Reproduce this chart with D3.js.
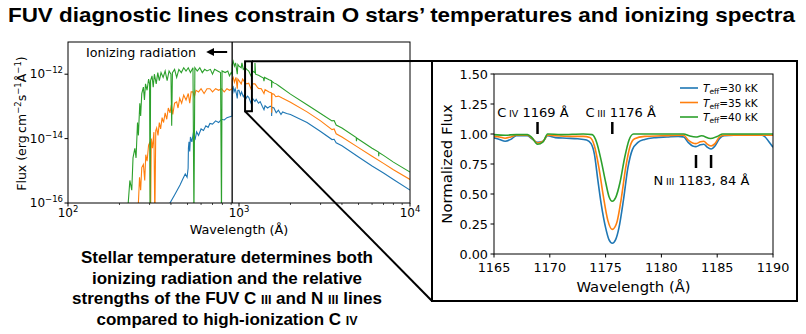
<!DOCTYPE html>
<html>
<head>
<meta charset="utf-8">
<script src="https://cdn.jsdelivr.net/npm/d3@7"></script>
<style>
  body { margin: 0; background: #fff; }
  text { font-family: "DejaVu Sans", sans-serif; }
  text.hv { font-family: "Liberation Sans", Arial, sans-serif; }
</style>
</head>
<body>
<div id="vis"></div>
<script>
// ---- data ----
const temps = ['30', '35', '40'];
const colors = ['#1f77b4', '#ff7f0e', '#2ca02c'];

// SED panel: [wavelength (Å), log10 flux]
const sed30 = [[380,-16.6],[395,-16.0],[420,-15.75],[452,-15.44],[470,-15.25],[485,-15.1],[497,-15.2],[504,-14.92],[506,-14.3],[510,-14.1],[515,-14.4],[520,-13.95],[530,-14.1],[540,-13.85],[555,-14.0],[565,-13.79],[580,-13.9],[600,-13.7],[620,-13.75],[640,-13.6],[660,-13.65],[676,-13.53],[700,-13.55],[730,-13.45],[760,-13.5],[790,-13.4],[820,-13.42],[850,-13.35],[885,-13.32],[911,-13.3],[913,-12.45],[925,-12.4],[935,-12.55],[950,-12.45],[965,-12.6],[977,-12.75],[985,-12.5],[1000,-12.5],[1020,-12.65],[1035,-12.55],[1060,-12.7],[1080,-12.62],[1100,-12.75],[1120,-12.68],[1140,-12.72],[1175,-12.9],[1200,-12.75],[1240,-12.85],[1260,-12.78],[1300,-12.9],[1330,-12.85],[1370,-13.0],[1400,-13.1],[1420,-12.98],[1470,-13.05],[1520,-13.0],[1548,-13.0],[1552,-13.3],[1558,-13.02],[1600,-13.05],[1650,-13.2],[1700,-13.12],[1760,-13.25],[1800,-13.17],[1900,-13.22],[2000,-13.25],[2500,-13.5],[3000,-13.78],[3500,-14.03],[3600,-14.02],[3700,-14.13],[4000,-14.22],[5000,-14.57],[6000,-14.85],[7000,-15.07],[8000,-15.27],[10000,-15.6]];
const sed35 = [[250,-16.6],[258,-16.0],[262,-15.2],[266,-15.6],[270,-14.9],[276,-14.8],[281,-15.3],[285,-14.5],[290,-14.7],[296,-14.2],[302,-14.1],[304,-16.5],[307,-14.0],[312,-14.3],[318,-13.8],[322,-16.5],[326,-13.75],[330,-13.67],[336,-13.9],[342,-13.5],[348,-13.7],[355,-13.35],[362,-13.5],[370,-13.2],[378,-13.4],[386,-13.05],[395,-13.2],[402,-12.95],[410,-13.25],[420,-12.9],[432,-12.86],[440,-13.05],[450,-12.75],[462,-12.9],[475,-12.65],[490,-12.8],[505,-12.6],[515,-12.9],[525,-12.55],[538,-12.55],[548,-12.7],[560,-12.5],[580,-12.55],[600,-12.45],[625,-12.6],[650,-12.45],[676,-12.45],[700,-12.55],[730,-12.45],[760,-12.5],[790,-12.45],[820,-12.55],[850,-12.45],[880,-12.5],[911,-12.45],[913,-12.15],[925,-12.1],[940,-12.25],[960,-12.1],[977,-12.45],[985,-12.15],[1000,-12.2],[1030,-12.3],[1050,-12.15],[1080,-12.25],[1110,-12.3],[1140,-12.28],[1175,-12.45],[1200,-12.3],[1240,-12.3],[1280,-12.4],[1300,-12.44],[1350,-12.45],[1400,-12.6],[1420,-12.48],[1500,-12.55],[1548,-12.58],[1552,-13.2],[1558,-12.6],[1600,-12.62],[1640,-12.7],[1700,-12.68],[1800,-12.75],[2000,-12.87],[2500,-13.17],[3000,-13.45],[3500,-13.72],[3600,-13.7],[3700,-13.85],[4000,-13.95],[5000,-14.28],[6000,-14.55],[7000,-14.77],[8000,-14.97],[10000,-15.27]];
const sed40 = [[205,-16.6],[225,-16.0],[230,-15.3],[236,-15.6],[240,-14.6],[246,-14.3],[250,-14.6],[255,-13.5],[258,-13.9],[263,-12.9],[266,-13.3],[270,-12.6],[276,-12.4],[280,-12.8],[284,-12.3],[290,-12.5],[296,-12.15],[300,-12.3],[302,-16.5],[304,-12.2],[310,-12.05],[315,-12.4],[320,-12.0],[328,-12.3],[335,-11.95],[342,-12.2],[350,-11.95],[360,-12.1],[370,-11.9],[380,-12.2],[390,-11.9],[400,-12.0],[404,-13.6],[408,-11.95],[420,-11.85],[432,-12.1],[445,-11.85],[460,-11.95],[475,-11.8],[490,-11.9],[505,-11.8],[520,-11.95],[538,-11.8],[545,-16.5],[552,-11.8],[570,-11.9],[590,-11.8],[610,-11.95],[630,-11.85],[650,-11.9],[680,-11.85],[700,-12.0],[720,-11.85],[750,-11.9],[780,-11.95],[790,-16.5],[796,-11.9],[830,-11.95],[860,-11.9],[880,-12.05],[900,-11.95],[911,-12.0],[913,-11.7],[925,-11.6],[940,-11.75],[955,-11.65],[977,-12.0],[985,-11.7],[1000,-11.75],[1030,-11.8],[1040,-11.65],[1060,-11.85],[1085,-11.8],[1110,-11.85],[1140,-11.9],[1175,-12.05],[1200,-11.9],[1238,-11.95],[1240,-11.65],[1250,-12.0],[1300,-12.03],[1390,-12.12],[1400,-12.22],[1410,-12.1],[1500,-12.17],[1548,-12.2],[1552,-12.42],[1558,-12.22],[1600,-12.27],[1650,-12.3],[1700,-12.35],[2000,-12.62],[2500,-12.95],[3000,-13.22],[3500,-13.45],[3600,-13.44],[3700,-13.58],[4000,-13.67],[4850,-13.97],[4862,-14.08],[4875,-13.98],[5000,-14.02],[6000,-14.3],[6550,-14.42],[6563,-14.55],[6580,-14.43],[7000,-14.52],[8000,-14.73],[10000,-15.04]];

// FUV panel: [wavelength (Å), normalized flux]
const fuv30 = [[1165,0.968],[1165.5,0.955],[1166,0.94],[1166.5,0.955],[1167,0.985],[1168,0.985],[1168.4,0.96],[1168.9,0.93],[1169.4,0.94],[1169.8,0.985],[1170.5,0.97],[1171.5,0.965],[1172.5,0.96],[1173.3,0.95],[1173.7,0.92],[1174.0,0.83],[1174.3,0.62],[1174.6,0.42],[1175.0,0.22],[1175.3,0.12],[1175.6,0.09],[1175.9,0.12],[1176.2,0.22],[1176.6,0.45],[1177.0,0.72],[1177.4,0.87],[1177.9,0.93],[1178.5,0.955],[1179.5,0.97],[1180.5,0.975],[1181.5,0.98],[1182,0.975],[1182.4,0.93],[1182.8,0.9],[1183.1,0.895],[1183.5,0.91],[1183.8,0.915],[1184.1,0.89],[1184.45,0.875],[1184.8,0.9],[1185.2,0.96],[1185.6,0.985],[1186.5,0.99],[1188,0.99],[1189,0.99],[1189.3,0.975],[1189.6,0.94],[1190,0.89]];
const fuv35 = [[1165,0.98],[1165.5,0.975],[1166,0.965],[1166.5,0.975],[1167,0.99],[1168,0.99],[1168.4,0.965],[1168.9,0.925],[1169.4,0.94],[1169.8,0.99],[1170.5,0.985],[1172,0.98],[1173,0.98],[1173.6,0.97],[1174,0.9],[1174.4,0.72],[1174.8,0.48],[1175.2,0.28],[1175.6,0.205],[1176.0,0.26],[1176.4,0.46],[1176.8,0.72],[1177.2,0.9],[1177.6,0.96],[1178.5,0.98],[1180,0.985],[1182,0.99],[1182.4,0.95],[1182.8,0.925],[1183.1,0.92],[1183.5,0.935],[1183.8,0.94],[1184.1,0.915],[1184.45,0.9],[1184.8,0.92],[1185.2,0.975],[1185.6,0.99],[1188,0.99],[1190,0.99]];
const fuv40 = [[1165,0.995],[1166,0.99],[1167,0.995],[1168,0.995],[1168.4,0.97],[1168.9,0.915],[1169.4,0.935],[1169.8,1.0],[1171,0.995],[1173,1.0],[1173.8,0.995],[1174.2,0.93],[1174.6,0.78],[1175.0,0.6],[1175.3,0.48],[1175.6,0.44],[1175.9,0.47],[1176.3,0.6],[1176.7,0.8],[1177.1,0.95],[1177.5,1.0],[1180,1.0],[1182,1.0],[1182.5,0.985],[1183.1,0.975],[1183.6,0.985],[1184.4,0.962],[1185,0.98],[1185.5,1.0],[1190,1.0]];

const sedSeries = [sed30, sed35, sed40];
const fuvSeries = [fuv30, fuv35, fuv40];

const sedXTicks = [100, 1000, 10000];
const sedXLabels = ['2', '3', '4'];
const sedYTicks = [-16, -14, -12];
const fuvXTicks = [1165, 1170, 1175, 1180, 1185, 1190];
const fuvYTicks = [0, 0.25, 0.5, 0.75, 1.0, 1.25, 1.5];

const lymanLimit = 912;
const zoomBox = {x: [1085, 1190], logy: [-13.15, -11.6]};

// ---- svg ----
const W = 806, H = 334;
const svg = d3.select('#vis').append('svg')
    .attr('width', W).attr('height', H)
    .style('background', '#fff');

// title
svg.append('text').attr('class', 'hv')
    .attr('x', 8).attr('y', 22)
    .attr('textLength', 787).attr('lengthAdjust', 'spacingAndGlyphs')
    .style('font-size', '21px').style('font-weight', 'bold')
    .text('FUV diagnostic lines constrain O stars\u2019 temperatures and ionizing spectra');

// ===== left panel: SED =====
const L = {left: 68, right: 410, top: 42, bottom: 203};
const xs = d3.scaleLog().domain([100, 10000]).range([L.left, L.right]);
const ys = d3.scaleLog().domain([1e-16, 1e-11]).range([L.bottom, L.top]);

svg.append('clipPath').attr('id', 'clipL')
  .append('rect').attr('x', L.left).attr('y', L.top)
  .attr('width', L.right - L.left).attr('height', L.bottom - L.top);

const sedLine = d3.line()
    .x(d => xs(d[0]))
    .y(d => ys(Math.pow(10, d[1])));

const gL = svg.append('g').attr('clip-path', 'url(#clipL)');
sedSeries.forEach((s, i) => {
  gL.append('path').datum(s)
    .attr('d', sedLine)
    .attr('fill', 'none')
    .attr('stroke', colors[i])
    .attr('stroke-width', 1.1);
});

// Lyman limit line
svg.append('line')
  .attr('x1', xs(lymanLimit)).attr('x2', xs(lymanLimit))
  .attr('y1', L.top).attr('y2', L.bottom)
  .attr('stroke', '#000').attr('stroke-width', 1.3);

// ionizing radiation label + arrow (pointing to short wavelengths)
svg.append('defs').append('marker')
  .attr('id', 'arrow').attr('viewBox', '0 0 10 10')
  .attr('refX', 5).attr('refY', 5)
  .attr('markerWidth', 4).attr('markerHeight', 4)
  .attr('orient', 'auto')
  .append('path').attr('d', 'M0,0 L10,5 L0,10 z').attr('fill', '#000');
svg.append('line')
  .attr('x1', xs(lymanLimit) - 5).attr('x2', xs(lymanLimit) - 22)
  .attr('y1', 52).attr('y2', 52)
  .attr('stroke', '#000').attr('stroke-width', 2)
  .attr('marker-end', 'url(#arrow)');
svg.append('text')
  .attr('x', 86).attr('y', 57)
  .style('font-size', '12.7px')
  .text('Ionizing radiation');

// frame
svg.append('rect')
  .attr('x', L.left).attr('y', L.top)
  .attr('width', L.right - L.left).attr('height', L.bottom - L.top)
  .attr('fill', 'none').attr('stroke', '#000').attr('stroke-width', 1);

// ticks (major + minor)
const gxL = svg.append('g');
sedXTicks.forEach((t, i) => {
  gxL.append('line').attr('x1', xs(t)).attr('x2', xs(t))
    .attr('y1', L.bottom).attr('y2', L.bottom + 3.5).attr('stroke', '#000');
  const tx = gxL.append('text').attr('x', xs(t)).attr('y', 217)
    .attr('text-anchor', 'middle').style('font-size', '12px');
  tx.append('tspan').text('10');
  tx.append('tspan').attr('dy', -5).style('font-size', '8.5px').text(sedXLabels[i]);
});
[200,300,400,500,600,700,800,900,2000,3000,4000,5000,6000,7000,8000,9000].forEach(t => {
  gxL.append('line').attr('x1', xs(t)).attr('x2', xs(t))
    .attr('y1', L.bottom).attr('y2', L.bottom + 2).attr('stroke', '#000').attr('stroke-width', 0.7);
});
sedYTicks.forEach(t => {
  const yy = ys(Math.pow(10, t));
  gxL.append('line').attr('x1', L.left - 3.5).attr('x2', L.left)
    .attr('y1', yy).attr('y2', yy).attr('stroke', '#000');
  const tx = gxL.append('text').attr('x', L.left - 5).attr('y', yy + 4)
    .attr('text-anchor', 'end').style('font-size', '12px');
  tx.append('tspan').text('10');
  tx.append('tspan').attr('dy', -5).style('font-size', '8.5px').text('\u2212' + Math.abs(t));
});

// axis labels
svg.append('text').attr('x', (L.left + L.right) / 2).attr('y', 234)
  .attr('text-anchor', 'middle').style('font-size', '12.8px')
  .text('Wavelength (\u00c5)');
const yl = svg.append('text')
  .attr('transform', `translate(26,${(L.top + L.bottom) / 2 + 1}) rotate(-90)`)
  .attr('text-anchor', 'middle').style('font-size', '12.5px');
yl.append('tspan').text('Flux (erg\u2009cm');
yl.append('tspan').attr('dy', -5).style('font-size', '8.5px').text('\u22122');
yl.append('tspan').attr('dy', 5).text('s');
yl.append('tspan').attr('dy', -5).style('font-size', '8.5px').text('\u22121');
yl.append('tspan').attr('dy', 5).text('\u00c5');
yl.append('tspan').attr('dy', -5).style('font-size', '8.5px').text('\u22121');
yl.append('tspan').attr('dy', 5).text(')');

// ===== right panel: FUV =====
const R = {left: 494, right: 773, top: 74, bottom: 254};
const BIG = {x0: 432, y0: 61, x1: 797, y1: 301};
const xr = d3.scaleLinear().domain([1165, 1190]).range([R.left, R.right]);
const yr = d3.scaleLinear().domain([0, 1.5]).range([R.bottom, R.top]);

// zoom box + connectors
const zx0 = xs(zoomBox.x[0]), zx1 = xs(zoomBox.x[1]);
const zy0 = ys(Math.pow(10, zoomBox.logy[1])), zy1 = ys(Math.pow(10, zoomBox.logy[0]));
const gz = svg.append('g').attr('fill', 'none').attr('stroke', '#000').attr('stroke-width', 2);
gz.append('rect').attr('x', zx0).attr('y', zy0).attr('width', zx1 - zx0).attr('height', zy1 - zy0);
gz.append('line').attr('x1', zx1).attr('y1', zy0).attr('x2', BIG.x0).attr('y2', BIG.y0);
gz.append('line').attr('x1', zx0).attr('y1', zy1).attr('x2', BIG.x0).attr('y2', BIG.y1);
gz.append('rect').attr('x', BIG.x0).attr('y', BIG.y0)
  .attr('width', BIG.x1 - BIG.x0).attr('height', BIG.y1 - BIG.y0)
  .attr('fill', '#fff');

svg.append('clipPath').attr('id', 'clipR')
  .append('rect').attr('x', R.left).attr('y', R.top)
  .attr('width', R.right - R.left).attr('height', R.bottom - R.top);

const fuvLine = d3.line()
    .x(d => xr(d[0])).y(d => yr(d[1]))
    .curve(d3.curveMonotoneX);
const gR = svg.append('g').attr('clip-path', 'url(#clipR)');
fuvSeries.forEach((s, i) => {
  gR.append('path').datum(s)
    .attr('d', fuvLine)
    .attr('fill', 'none')
    .attr('stroke', colors[i])
    .attr('stroke-width', 1.6);
});

svg.append('rect')
  .attr('x', R.left).attr('y', R.top)
  .attr('width', R.right - R.left).attr('height', R.bottom - R.top)
  .attr('fill', 'none').attr('stroke', '#000').attr('stroke-width', 1);

fuvXTicks.forEach(t => {
  svg.append('line').attr('x1', xr(t)).attr('x2', xr(t))
    .attr('y1', R.bottom).attr('y2', R.bottom + 3.5).attr('stroke', '#000');
  svg.append('text').attr('x', xr(t)).attr('y', 272)
    .attr('text-anchor', 'middle').style('font-size', '12.8px').text(t);
});
fuvYTicks.forEach(t => {
  svg.append('line').attr('x1', R.left - 3.5).attr('x2', R.left)
    .attr('y1', yr(t)).attr('y2', yr(t)).attr('stroke', '#000');
  svg.append('text').attr('x', R.left - 6).attr('y', yr(t) + 5)
    .attr('text-anchor', 'end').style('font-size', '12.8px').text(t.toFixed(2));
});
svg.append('text').attr('x', (R.left + R.right) / 2).attr('y', 292)
  .attr('text-anchor', 'middle').style('font-size', '14.8px')
  .text('Wavelength (\u00c5)');
svg.append('text')
  .attr('transform', `translate(452,${(R.top + R.bottom) / 2}) rotate(-90)`)
  .attr('text-anchor', 'middle').style('font-size', '14.8px')
  .text('Normalized Flux');

// line annotations
function ionLabel(x, y, el, ion, rest) {
  const t = svg.append('text').attr('x', x).attr('y', y).style('font-size', '13px');
  t.append('tspan').text(el + '\u2009');
  t.append('tspan').style('font-size', '9.5px').text(ion);
  t.append('tspan').text(rest);
}
ionLabel(xr(1165.3), 117, 'C', 'IV', ' 1169 \u00c5');
ionLabel(xr(1173.2), 117, 'C', 'III', ' 1176 \u00c5');
ionLabel(xr(1179.3), 185, 'N', 'III', ' 1183, 84 \u00c5');
[[1168.9, 122, 134], [1175.6, 122, 134], [1183.1, 155, 168], [1184.45, 155, 168]].forEach(m => {
  svg.append('line').attr('x1', xr(m[0])).attr('x2', xr(m[0]))
    .attr('y1', m[1]).attr('y2', m[2])
    .attr('stroke', '#000').attr('stroke-width', 2.5);
});

// legend
temps.forEach((t, i) => {
  const ly = 88 + i * 14.5;
  svg.append('line').attr('x1', 680).attr('x2', 698).attr('y1', ly).attr('y2', ly)
    .attr('stroke', colors[i]).attr('stroke-width', 1.6);
  const tx = svg.append('text').attr('x', 703).attr('y', ly + 4).style('font-size', '10.5px');
  tx.append('tspan').style('font-style', 'italic').text('T');
  tx.append('tspan').attr('dy', 2).style('font-size', '7.5px').text('eff');
  tx.append('tspan').attr('dy', -2).text('=' + t + ' kK');
});

// caption
const capLines = [
  [['Stellar temperature determines both', 0]],
  [['ionizing radiation and the relative', 0]],
  [['strengths of the FUV C ', 0], ['III', 1], [' and N ', 0], ['III', 1], [' lines', 0]],
  [['compared to high-ionization C ', 0], ['IV', 1]]
];
capLines.forEach((parts, i) => {
  const t = svg.append('text').attr('class', 'hv')
    .attr('x', 227).attr('y', 263 + i * 20.7)
    .attr('text-anchor', 'middle')
    .style('font-size', '17px').style('font-weight', 'bold');
  parts.forEach(p => t.append('tspan').style('font-size', p[1] ? '12.5px' : null).text(p[0]));
});
</script>
</body>
</html>
